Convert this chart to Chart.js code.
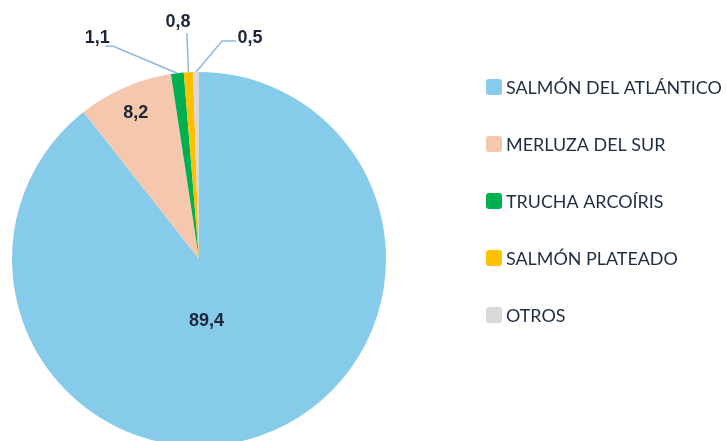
<!DOCTYPE html>
<html><head><meta charset="utf-8">
<script src="https://cdn.jsdelivr.net/npm/chart.js@4"></script>
<style>html,body{margin:0;padding:0;overflow:hidden;background:#fff;width:726px;height:441px}canvas{display:block}</style>
</head><body>
<canvas id="c" width="726" height="450"></canvas>
<script>
const categories = ['SALMÓN DEL ATLÁNTICO', 'MERLUZA DEL SUR', 'TRUCHA ARCOÍRIS', 'SALMÓN PLATEADO', 'OTROS'];
const values = [89.4, 8.2, 1.1, 0.8, 0.5];
const valueLabels = values.map(v => v.toFixed(1).replace('.', ','));
const colors = ['#86CBEA', '#F5C7AC', '#00B050', '#FFC000', '#D9D9D9'];

const labelPlugin = {
  id: 'labels',
  afterDraw(chart) {
    const ctx = chart.ctx;
    const arcs = chart.getDatasetMeta(0).data;
    ctx.save();
    ctx.font = 'bold 18px "Liberation Sans", Arial, sans-serif';
    ctx.fillStyle = '#1B2638';
    ctx.textAlign = 'center';
    ctx.textBaseline = 'middle';
    arcs.forEach((arc, i) => {
      const { x, y, startAngle, endAngle, outerRadius: R } = arc.getProps(['x', 'y', 'startAngle', 'endAngle', 'outerRadius'], true);
      const mid = (startAngle + endAngle) / 2;
      const px = x + R * Math.cos(mid), py = y + R * Math.sin(mid);
      if (i === 0) {
        ctx.fillText(valueLabels[i], x + 0.04 * R, y + 0.33 * R);
      } else if (i === 1) {
        ctx.fillText(valueLabels[i], x + 0.85 * R * Math.cos(mid), y + 0.85 * R * Math.sin(mid));
      } else {
        const leader = {
          2: { elbow: [-64, -27], end: [-72, -27], text: [-80, -35] },
          3: { elbow: [-1.5, -39], end: [-1.5, -39], text: [-10.5, -50] },
          4: { elbow: [26, -31], end: [40, -31], text: [54, -34] }
        }[i];
        ctx.strokeStyle = '#8DB8E2';
        ctx.lineWidth = 1.5;
        ctx.beginPath();
        ctx.moveTo(px, py);
        ctx.lineTo(px + leader.elbow[0], py + leader.elbow[1]);
        ctx.lineTo(px + leader.end[0], py + leader.end[1]);
        ctx.stroke();
        ctx.fillText(valueLabels[i], px + leader.text[0], py + leader.text[1]);
      }
    });
    // legend
    let size = 18;
    ctx.font = size + 'px Lato, sans-serif';
    const widest = Math.max(...categories.map(c => ctx.measureText(c).width));
    size = size * 216 / widest;
    ctx.font = size + 'px Lato, sans-serif';
    ctx.textAlign = 'left';
    categories.forEach((c, i) => {
      const cy = 87 + i * 57;
      ctx.fillStyle = colors[i];
      ctx.beginPath();
      ctx.roundRect(486, cy - 8, 16, 16, 3);
      ctx.fill();
      ctx.fillStyle = '#1F2D40';
      ctx.fillText(c, 506, cy + 1);
    });
    ctx.restore();
  }
};

new Chart(document.getElementById('c'), {
  type: 'pie',
  data: {
    labels: categories,
    datasets: [{ data: values, backgroundColor: colors, borderWidth: 0, hoverOffset: 0 }]
  },
  options: {
    responsive: false,
    animation: false,
    events: [],
    devicePixelRatio: 1,
    layout: { padding: { top: 72, bottom: 4, left: 12, right: 340 } },
    plugins: { legend: { display: false }, tooltip: { enabled: false } }
  },
  plugins: [labelPlugin]
});
</script>
</body></html>
